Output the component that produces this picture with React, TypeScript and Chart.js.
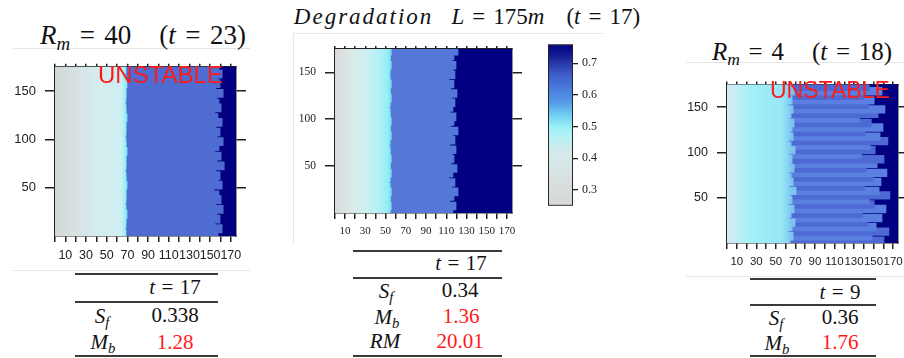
import React, { useEffect, useRef } from 'react';
import { Chart, registerables } from 'chart.js';

Chart.register(...registerables);

// ---------------- data ----------------
const ROW_STARTS = [0, 5, 10, 15, 20, 25, 30, 35, 40, 45, 50, 55, 60, 65, 70, 75, 80, 85, 90, 95, 100, 105, 110, 115, 120, 125, 130, 135, 140, 145, 150, 155, 160, 165, 170];
const X_MAX = 175;
const X_TICKS = [0, 10, 20, 30, 40, 50, 60, 70, 80, 90, 100, 110, 120, 130, 140, 150, 160, 170];
const X_LABELED = [10, 30, 50, 70, 90, 110, 130, 150, 170];
const Y_TICKS = [50, 100, 150];
const CB_TICKS = [0.3, 0.4, 0.5, 0.6, 0.7];
const CB_RANGE = [0.25, 0.76];

// Panel 1 (R_m = 40): per-row boundaries (bottom row first)
const P1_CYAN_EDGE = [68, 67, 68, 68, 69, 68, 67, 68, 68, 68, 69, 68, 68, 67, 68, 68, 68, 69, 68, 68, 67, 68, 68, 68, 69, 68, 68, 67, 68, 68, 68, 69, 68, 67, 68];
const P1_NAVY_EDGE = [157, 161, 154, 159, 156, 162, 155, 160, 158, 153, 161, 157, 159, 155, 163, 156, 160, 154, 158, 162, 156, 159, 155, 161, 157, 154, 160, 158, 156, 162, 155, 159, 157, 161, 158];

// Panel 2 (Degradation L = 175m)
const P2_CYAN_EDGE = [54, 55, 54, 54, 55, 54, 53, 54, 55, 54, 54, 55, 54, 54, 53, 54, 55, 54, 54, 55, 54, 54, 53, 54, 55, 54, 54, 55, 54, 53, 54, 55, 54, 54, 55];
const P2_NAVY_EDGE = [116, 119, 113, 117, 121, 115, 118, 112, 116, 120, 114, 117, 115, 119, 113, 118, 116, 121, 114, 117, 119, 113, 116, 118, 115, 120, 114, 117, 112, 118, 116, 119, 115, 117, 121];

// Panel 3 (R_m = 4)
const P3_CYAN_EDGE = [64, 67, 62, 66, 69, 63, 65, 68, 62, 66, 64, 70, 63, 67, 65, 62, 68, 64, 66, 63, 69, 65, 62, 67, 64, 66, 68, 63, 65, 67, 62, 66, 64, 68, 65];
const P3_NAVY_EDGE = [160, 148, 165, 152, 143, 158, 138, 162, 150, 145, 166, 155, 140, 157, 149, 163, 142, 153, 160, 137, 151, 146, 164, 156, 141, 159, 147, 135, 154, 161, 144, 150, 139, 158, 145];

// ---------------- styles ----------------
const NAVY = '#000080';
const AXIS = '#222222';
const SANS = '"Liberation Sans", Arial, sans-serif';
const SERIF = '"Liberation Serif", "Times New Roman", serif';

type Stop = [number, string];

const P1_GRAD: Stop[] = [[0, '#d3d7d7'], [0.35, '#d7e4e4'], [0.6, '#d5ecee'], [0.93, '#cdeff2'], [0.97, '#9ff2f8'], [1, '#8ee6f4']];
const P2_GRAD: Stop[] = [[0, '#d8d9d9'], [0.25, '#dde6e6'], [0.5, '#d2eff1'], [0.8, '#b2f0f5'], [0.95, '#92eef6'], [1, '#7fdcf0']];
const P3_GRAD: Stop[] = [[0, '#d9e9eb'], [0.15, '#c0f0f6'], [0.35, '#a8f0f8'], [0.6, '#9cecf8'], [0.85, '#96e6f8'], [0.93, '#8ad6f4'], [1, '#7cc4ee']];

const CB_STOPS: Stop[] = [
  [0.25, '#d6d7d7'], [0.33, '#d8e0e0'], [0.42, '#d4eaec'], [0.47, '#b4f0f4'], [0.5, '#98f0f8'],
  [0.54, '#6ccaf2'], [0.58, '#5398e6'], [0.62, '#4a7bdc'], [0.66, '#4060cc'], [0.7, '#2838a8'],
  [0.73, '#101890'], [0.76, '#000080'],
];

interface HeatProps {
  left: number; top: number; width: number; height: number;
  cyan: number[]; navy: number[]; grad: Stop[]; gradEnd: number;
  blue: string | string[]; font: string; xSize: number; ySize: number;
  yPad: number; xPad: number;
}

function Heatmap(p: HeatProps) {
  const ref = useRef<HTMLCanvasElement>(null);
  useEffect(() => {
    if (!ref.current) return;
    const labels = ROW_STARTS.map(String);
    const low = p.cyan.map((v) => [0, v]);
    const mid = p.cyan.map((v, i) => [v, p.navy[i]]);
    const high = p.navy.map((v) => [v, X_MAX]);
    const common = { grouped: false, xAxisID: 'x', yAxisID: 'rows', barPercentage: 1.4, categoryPercentage: 1, borderWidth: 0, inflateAmount: 1 };
    const gradFill = (ctx: any) => {
      const chart = ctx.chart;
      const xs = chart.scales && chart.scales.x;
      if (!xs) return p.grad[2][1];
      const a = xs.getPixelForValue(0);
      const b = xs.getPixelForValue(p.gradEnd);
      if (!isFinite(a) || !isFinite(b) || a === b) return p.grad[2][1];
      const g = chart.ctx.createLinearGradient(a, 0, b, 0);
      p.grad.forEach(([o, c]) => g.addColorStop(o, c));
      return g;
    };
    const setX = (s: any) => { s.ticks = X_TICKS.map((v) => ({ value: v })); };
    const setY = (s: any) => { s.ticks = Y_TICKS.map((v) => ({ value: v })); };
    const grid = (len: number) => ({ offset: false, drawOnChartArea: false, drawTicks: true, tickLength: len, color: AXIS, lineWidth: 1.5 });
    const border = { color: AXIS, width: 1.5 };
    const chart = new Chart(ref.current, {
      type: 'bar',
      data: {
        labels,
        datasets: [
          { ...common, data: low, backgroundColor: gradFill },
          { ...common, data: mid, backgroundColor: p.blue },
          { ...common, data: high, backgroundColor: NAVY },
        ] as any,
      },
      options: {
        indexAxis: 'y',
        animation: false,
        responsive: false,
        devicePixelRatio: 1,
        layout: { padding: 0 },
        plugins: { legend: { display: false }, tooltip: { enabled: false } },
        scales: {
          x: {
            type: 'linear', position: 'bottom', min: 0, max: X_MAX, offset: false,
            afterBuildTicks: setX, afterFit: (s: any) => { s.height = 30; },
            ticks: { autoSkip: false, maxRotation: 0, padding: p.xPad, color: '#222', font: { family: p.font, size: p.xSize },
              callback: (v: any) => (X_LABELED.includes(Number(v)) ? String(v) : '') },
            grid: grid(6), border,
          },
          xt: {
            type: 'linear', position: 'top', min: 0, max: X_MAX, offset: false,
            afterBuildTicks: setX, afterFit: (s: any) => { s.height = 4; },
            ticks: { display: false }, grid: grid(3), border,
          },
          rows: { type: 'category', axis: 'y', labels, reverse: true, display: false, offset: true },
          y: {
            type: 'linear', position: 'left', min: 0, max: X_MAX, offset: false,
            afterBuildTicks: setY, afterFit: (s: any) => { s.width = 55; },
            ticks: { autoSkip: false, padding: p.yPad, color: '#222', font: { family: p.font, size: p.ySize }, callback: (v: any) => String(v) },
            grid: grid(10), border,
          },
          yr: {
            type: 'linear', position: 'right', min: 0, max: X_MAX, offset: false,
            afterBuildTicks: setY, afterFit: (s: any) => { s.width = 12; },
            ticks: { display: false }, grid: grid(10), border,
          },
        } as any,
      },
    });
    return () => chart.destroy();
  }, []);
  return <canvas ref={ref} width={p.width} height={p.height} style={{ position: 'absolute', left: p.left, top: p.top }} />;
}

function ColorBar() {
  const ref = useRef<HTMLCanvasElement>(null);
  useEffect(() => {
    if (!ref.current) return;
    const chart = new Chart(ref.current, {
      type: 'bar',
      data: {
        labels: ['scale'],
        datasets: [{
          data: [CB_RANGE] as any,
          backgroundColor: (ctx: any) => {
            const ch = ctx.chart;
            const ys = ch.scales && ch.scales.y;
            if (!ys) return CB_STOPS[5][1];
            const a = ys.getPixelForValue(CB_RANGE[0]);
            const b = ys.getPixelForValue(CB_RANGE[1]);
            if (!isFinite(a) || !isFinite(b) || a === b) return CB_STOPS[5][1];
            const g = ch.ctx.createLinearGradient(0, a, 0, b);
            CB_STOPS.forEach(([v, c]) => g.addColorStop((v - CB_RANGE[0]) / (CB_RANGE[1] - CB_RANGE[0]), c));
            return g;
          },
          borderColor: AXIS, borderWidth: 1.3, borderSkipped: false,
          barPercentage: 1, categoryPercentage: 1,
        }],
      },
      options: {
        animation: false, responsive: false, devicePixelRatio: 1,
        layout: { padding: { left: 2, top: 4, bottom: 4, right: 0 } },
        plugins: { legend: { display: false }, tooltip: { enabled: false } },
        scales: {
          x: { display: false },
          y: {
            position: 'right', min: CB_RANGE[0], max: CB_RANGE[1],
            afterBuildTicks: (s: any) => { s.ticks = CB_TICKS.map((v) => ({ value: v })); },
            afterFit: (s: any) => { s.width = 30; },
            ticks: { padding: 4, color: '#222', font: { family: SERIF, size: 12 }, callback: (v: any) => Number(v).toFixed(1) },
            grid: { drawOnChartArea: false, tickLength: 5, color: AXIS, lineWidth: 1.3 },
            border: { display: false },
          },
        } as any,
      },
    });
    return () => chart.destroy();
  }, []);
  return <canvas ref={ref} width={57} height={184} style={{ position: 'absolute', left: 546, top: 33 }} />;
}

// ---------------- text helpers ----------------
const Sub = ({ children }: { children: React.ReactNode }) => (
  <span style={{ position: 'relative', top: '0.3em', fontSize: '0.7em' }}>{children}</span>
);
const Eq = ({ m }: { m?: number }) => <span style={{ margin: `0 ${m ?? 0.3}em` }}>=</span>;
const I = ({ children }: { children: React.ReactNode }) => <i>{children}</i>;
const Gap = ({ w }: { w: number }) => <span style={{ display: 'inline-block', width: w }} />;

function At({ cx, cy, size, color, children }: { cx: number; cy: number; size: number; color?: string; children: React.ReactNode }) {
  return (
    <div style={{ position: 'absolute', left: cx, top: cy, transform: 'translate(-50%,-50%)', fontFamily: SERIF, fontSize: size, lineHeight: 1, whiteSpace: 'nowrap', color: color || '#111' }}>
      {children}
    </div>
  );
}

function HLine({ x1, x2, y, color, w }: { x1: number; x2: number; y: number; color: string; w: number }) {
  return <div style={{ position: 'absolute', left: x1, top: y - w / 2, width: x2 - x1, height: w, background: color }} />;
}
function VLine({ x, y1, y2, color }: { x: number; y1: number; y2: number; color: string }) {
  return <div style={{ position: 'absolute', left: x, top: y1, width: 1, height: y2 - y1, background: color }} />;
}

const RULE = '#3a3a3a';
const FAINT = '#e6e6e6';
const RED = '#ff1a1a';

export default function App() {
  return (
    <div style={{ position: 'fixed', left: 0, top: 0, width: 904, height: 358, background: '#fff', overflow: 'hidden' }}>
      {/* faint image borders */}
      <HLine x1={13} x2={250} y={48} color={FAINT} w={1} />
      <HLine x1={13} x2={250} y={270} color={FAINT} w={1} />
      <VLine x={293} y1={33} y2={243} color={FAINT} />
      <HLine x1={293} x2={603} y={33} color={FAINT} w={1} />
      <HLine x1={686} x2={904} y={62} color={FAINT} w={1} />
      <HLine x1={686} x2={904} y={276} color={FAINT} w={1} />

      {/* titles */}
      <At cx={143} cy={35} size={27}>
        <I>R</I><Sub><I>m</I></Sub><Eq m={0.35} />40<Gap w={28} />(<I>t</I><Eq m={0.35} />23)
      </At>
      <At cx={467} cy={16} size={23}>
        <span style={{ letterSpacing: 2 }}><I>Degradation</I></span><Gap w={18} /><I>L</I><Eq m={0.35} />175<I>m</I><Gap w={22} />(<I>t</I><Eq m={0.35} />17)
      </At>
      <At cx={802} cy={51} size={25}>
        <I>R</I><Sub><I>m</I></Sub><Eq m={0.35} />4<Gap w={28} />(<I>t</I><Eq m={0.35} />18)
      </At>

      {/* heatmaps */}
      <Heatmap left={0} top={50} width={248} height={216} cyan={P1_CYAN_EDGE} navy={P1_NAVY_EDGE} grad={P1_GRAD} gradEnd={69}
        blue="#4f6cd2" font={SANS} xSize={12.5} ySize={13} yPad={9} xPad={6} />
      <Heatmap left={280} top={33} width={244} height={210} cyan={P2_CYAN_EDGE} navy={P2_NAVY_EDGE} grad={P2_GRAD} gradEnd={55}
        blue="#5577d8" font={SERIF} xSize={11} ySize={11.5} yPad={9} xPad={6} />
      <Heatmap left={672} top={68} width={238} height={205} cyan={P3_CYAN_EDGE} navy={P3_NAVY_EDGE} grad={P3_GRAD} gradEnd={66}
        blue={['#4d69d4', '#5a7fe0']} font={SANS} xSize={11.5} ySize={12.5} yPad={9} xPad={6} />
      <ColorBar />

      {/* UNSTABLE labels */}
      <div style={{ position: 'absolute', left: 98, top: 63, fontFamily: SANS, fontSize: 24, lineHeight: 1, color: RED }}>UNSTABLE</div>
      <div style={{ position: 'absolute', left: 770, top: 79, fontFamily: SANS, fontSize: 23, lineHeight: 1, color: RED }}>UNSTABLE</div>

      {/* table 1 */}
      <HLine x1={75} x2={218} y={274} color={RULE} w={2} />
      <HLine x1={75} x2={218} y={302} color={RULE} w={1.5} />
      <HLine x1={75} x2={218} y={356} color={RULE} w={2} />
      <At cx={175} cy={287} size={21}><I>t</I><Eq />17</At>
      <At cx={102} cy={316} size={21}><I>S</I><Sub><I>f</I></Sub></At>
      <At cx={175} cy={315} size={21}>0.338</At>
      <At cx={103} cy={342} size={21}><I>M</I><Sub><I>b</I></Sub></At>
      <At cx={175} cy={342} size={21} color={RED}>1.28</At>

      {/* table 2 */}
      <HLine x1={353} x2={502} y={251} color={RULE} w={2} />
      <HLine x1={353} x2={502} y={278} color={RULE} w={1.5} />
      <HLine x1={353} x2={502} y={356} color={RULE} w={2} />
      <At cx={461} cy={263} size={21}><I>t</I><Eq />17</At>
      <At cx={386} cy={291} size={21}><I>S</I><Sub><I>f</I></Sub></At>
      <At cx={460} cy={290} size={21}>0.34</At>
      <At cx={387} cy={317} size={21}><I>M</I><Sub><I>b</I></Sub></At>
      <At cx={461} cy={316} size={21} color={RED}>1.36</At>
      <At cx={385} cy={341} size={21}><I>RM</I></At>
      <At cx={460} cy={341} size={21} color={RED}>20.01</At>

      {/* table 3 */}
      <HLine x1={750} x2={876} y={279} color={RULE} w={2} />
      <HLine x1={750} x2={876} y={305} color={RULE} w={1.5} />
      <HLine x1={750} x2={876} y={356} color={RULE} w={2} />
      <At cx={840} cy={292} size={21}><I>t</I><Eq />9</At>
      <At cx={776} cy={318} size={21}><I>S</I><Sub><I>f</I></Sub></At>
      <At cx={840} cy={317} size={21}>0.36</At>
      <At cx={777} cy={343} size={21}><I>M</I><Sub><I>b</I></Sub></At>
      <At cx={840} cy={342} size={21} color={RED}>1.76</At>
    </div>
  );
}
